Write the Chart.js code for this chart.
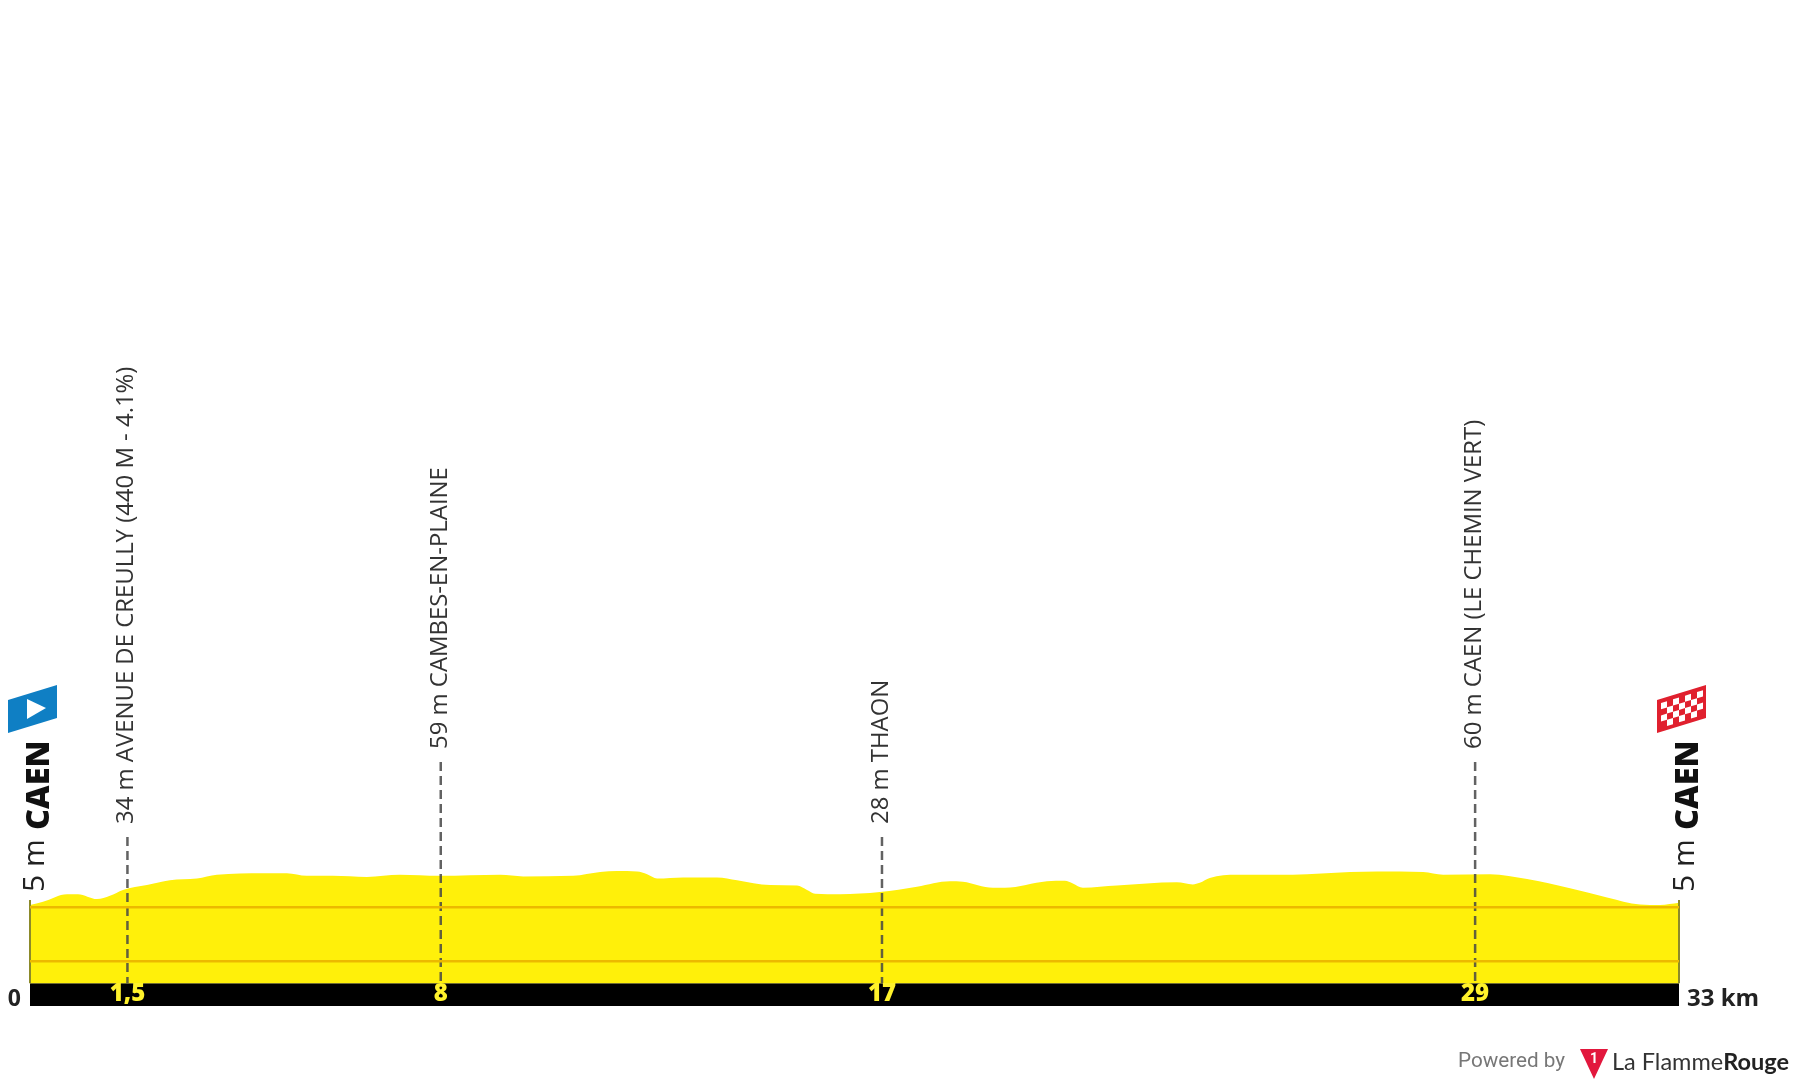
<!DOCTYPE html>
<html>
<head>
<meta charset="utf-8">
<title>Caen - Caen</title>
<script src="https://cdn.jsdelivr.net/npm/chart.js@4/dist/chart.umd.js"></script>
<style>
  html, body { margin: 0; padding: 0; background: #fff; }
  canvas { display: block; }
</style>
</head>
<body>
<canvas id="profile" width="1799" height="1087"></canvas>
<script>
// profile
const distanceKm = [0, 0.26, 0.74, 0.96, 1.34, 1.6, 1.86, 2.34, 2.8, 3.34, 3.74, 4.66, 5.14, 5.54, 6.06, 6.74, 7.4, 8.2, 9.41, 9.87, 10.87, 11.41, 11.75, 12.15, 12.35, 12.55, 13.07, 13.75, 14.15, 14.81, 15.35, 15.55, 15.71, 16.21, 17.01, 17.75, 18.41, 18.67, 19.27, 19.51, 20.35, 20.71, 20.87, 21.07, 21.75, 22.95, 23.27, 23.41, 23.61, 24.15, 25.27, 26.42, 26.96, 27.88, 28.28, 29.22, 29.96, 30.82, 31.56, 32.22, 32.62, 33];
const elevationM = [5, 11, 25, 25, 16, 22, 33, 42, 51, 54, 61, 64, 64, 59, 59, 57, 61, 59, 61, 58, 59, 66, 68, 67, 62, 54, 56, 56, 51, 42, 41, 33, 26, 25, 29, 39, 49, 48, 37, 37, 49, 50, 45, 37, 41, 47, 43, 46, 55, 61, 61, 66, 67, 66, 61, 62, 53, 36, 19, 6, 5, 9];

// waypoints
const markerKm = [1.95, 8.22, 17.05, 28.92];
const markerKmLabels = ['1,5', '8', '17', '29'];
const markerElevations = [34, 59, 28, 60];
const markerNames = ['AVENUE DE CREULLY (440 M - 4.1%)', 'CAMBES-EN-PLAINE', 'THAON', 'CAEN (LE CHEMIN VERT)'];

const startEnd = { name: 'CAEN', elevation: 5 };
const gridElevations = [0, -100];
const totalKm = 33;

const FONT = '"Open Sans", sans-serif';

function toPoints(xs, ys) {
    return xs.map((x, i) => ({ x: x, y: ys[i] }));
}

function rotatedText(ctx, text, x, y, font, color) {
    ctx.save();
    ctx.translate(x, y);
    ctx.rotate(-Math.PI / 2);
    ctx.font = font;
    ctx.fillStyle = color;
    ctx.textAlign = 'left';
    ctx.textBaseline = 'alphabetic';
    ctx.fillText(text, 0, 0);
    ctx.restore();
}

function poly(ctx, pts, color) {
    ctx.beginPath();
    pts.forEach((p, i) => i ? ctx.lineTo(p[0], p[1]) : ctx.moveTo(p[0], p[1]));
    ctx.closePath();
    ctx.fillStyle = color;
    ctx.fill();
}

function drawStartFlag(ctx, x) {
    poly(ctx, [[x - 22, 700], [x + 27, 685], [x + 27, 718], [x - 22, 733]], '#0f7fc4');
    poly(ctx, [[x - 3, 699], [x + 16, 708], [x - 3, 719]], '#ffffff');
}

function drawFinishFlag(ctx, x) {
    const left = x - 22, w = 49;
    poly(ctx, [[left, 700], [left + w, 685], [left + w, 718], [left, 733]], '#e0202e');
    // checker squares follow the slant of the flag
    for (let col = 0; col < 7; col++) {
        for (let row = 0; row < 4; row++) {
            if ((col + row) % 2) continue;
            const px = left + 4 + col * 6;
            const py = 703 - col * 6 * (15 / w) + row * 6.2;
            poly(ctx, [[px, py], [px + 6, py - 1.8], [px + 6, py + 4.4], [px, py + 6.2]], '#ffffff');
        }
    }
}

// everything the library has no element for: waypoints, names, flags, footer
const profileDecor = {
    id: 'profileDecor',
    afterDatasetsDraw(chart) {
        const ctx = chart.ctx;
        const xs = chart.scales.x;
        const ys = chart.scales.y;
        const bandTop = ys.getPixelForValue(-140);
        const bandBottom = ys.getPixelForValue(-182);
        const x0 = xs.getPixelForValue(0);
        const x1 = xs.getPixelForValue(totalKm);

        // end posts
        ctx.save();
        ctx.strokeStyle = '#8c8a2a';
        ctx.lineWidth = 2;
        [x0, x1].forEach(x => {
            ctx.beginPath();
            ctx.moveTo(x, 900);
            ctx.lineTo(x, bandTop);
            ctx.stroke();
        });
        ctx.restore();

        // waypoints
        markerKm.forEach((km, i) => {
            const x = xs.getPixelForValue(km);
            const high = markerElevations[i] >= 50;
            const top = high ? 762 : 837;
            ctx.save();
            ctx.strokeStyle = 'rgba(70,70,70,0.85)';
            ctx.lineWidth = 2.5;
            ctx.setLineDash([9, 5]);
            ctx.beginPath();
            ctx.moveTo(x, top);
            ctx.lineTo(x, bandTop);
            ctx.stroke();
            ctx.restore();

            rotatedText(ctx, markerElevations[i] + ' m ' + markerNames[i], x + 6, top - 13, '23.9px ' + FONT, '#333333');

            ctx.save();
            ctx.font = '800 24px ' + FONT;
            ctx.fillStyle = '#fff22b';
            ctx.textAlign = 'center';
            ctx.textBaseline = 'middle';
            ctx.fillText(markerKmLabels[i], x, bandTop + 11);
            ctx.restore();
        });

        // start and finish names
        rotatedText(ctx, startEnd.elevation + ' m', x0 + 14, 892, '30px ' + FONT, '#222222');
        rotatedText(ctx, startEnd.name, x0 + 19, 830, '800 32.5px ' + FONT, '#111111');
        rotatedText(ctx, startEnd.elevation + ' m', x1 + 15, 892, '30px ' + FONT, '#222222');
        rotatedText(ctx, startEnd.name, x1 + 19, 830, '800 32.5px ' + FONT, '#111111');

        drawStartFlag(ctx, x0);
        drawFinishFlag(ctx, x1);

        // axis ends
        ctx.save();
        ctx.font = 'bold 23px ' + FONT;
        ctx.fillStyle = '#222222';
        ctx.textBaseline = 'alphabetic';
        ctx.textAlign = 'right';
        ctx.fillText('0', x0 - 9, bandBottom);
        ctx.textAlign = 'left';
        ctx.font = 'bold 24px ' + FONT;
        ctx.fillText(totalKm + ' km', x1 + 8, bandBottom);
        ctx.restore();

        // footer
        ctx.save();
        ctx.textBaseline = 'middle';
        ctx.textAlign = 'left';
        ctx.font = '20.7px Roboto, sans-serif';
        ctx.fillStyle = '#777777';
        ctx.fillText('Powered by', 1458, 1062);
        poly(ctx, [[1580, 1049], [1608, 1049], [1594, 1079]], '#e2173d');
        ctx.font = 'bold 14px Roboto, sans-serif';
        ctx.fillStyle = '#ffffff';
        ctx.textAlign = 'center';
        ctx.fillText('1', 1594, 1059);
        ctx.textAlign = 'left';
        ctx.font = '23.5px Lato, sans-serif';
        ctx.fillStyle = '#333333';
        ctx.fillText('La Flamme', 1612, 1062);
        const w = ctx.measureText('La Flamme').width;
        ctx.font = 'bold 23.5px Lato, sans-serif';
        ctx.fillStyle = '#222222';
        ctx.fillText('Rouge', 1612 + w, 1062);
        ctx.restore();
    }
};

new Chart(document.getElementById('profile'), {
    type: 'line',
    data: {
        datasets: [
            {
                label: 'Elevation',
                data: toPoints(distanceKm, elevationM),
                borderWidth: 0,
                pointRadius: 0,
                cubicInterpolationMode: 'monotone',
                backgroundColor: '#fff00a',
                fill: { value: -140 }
            },
            {
                label: 'Distance band',
                data: toPoints([0, totalKm], [-140, -140]),
                borderWidth: 0,
                pointRadius: 0,
                backgroundColor: '#000000',
                fill: { value: -182 }
            }
        ]
    },
    options: {
        responsive: false,
        animation: false,
        layout: { padding: { left: 30, right: 120, top: 799.7, bottom: 81 } },
        plugins: { legend: { display: false }, tooltip: { enabled: false } },
        scales: {
            x: {
                type: 'linear',
                display: false,
                min: 0,
                max: totalKm
            },
            y: {
                type: 'linear',
                min: -182,
                max: 200,
                afterBuildTicks: axis => { axis.ticks = gridElevations.map(v => ({ value: v })); },
                grid: { z: 1, color: '#ecb900', lineWidth: 2.5, drawTicks: false },
                border: { display: false },
                ticks: { display: false }
            }
        }
    },
    plugins: [profileDecor]
});
</script>
</body>
</html>
